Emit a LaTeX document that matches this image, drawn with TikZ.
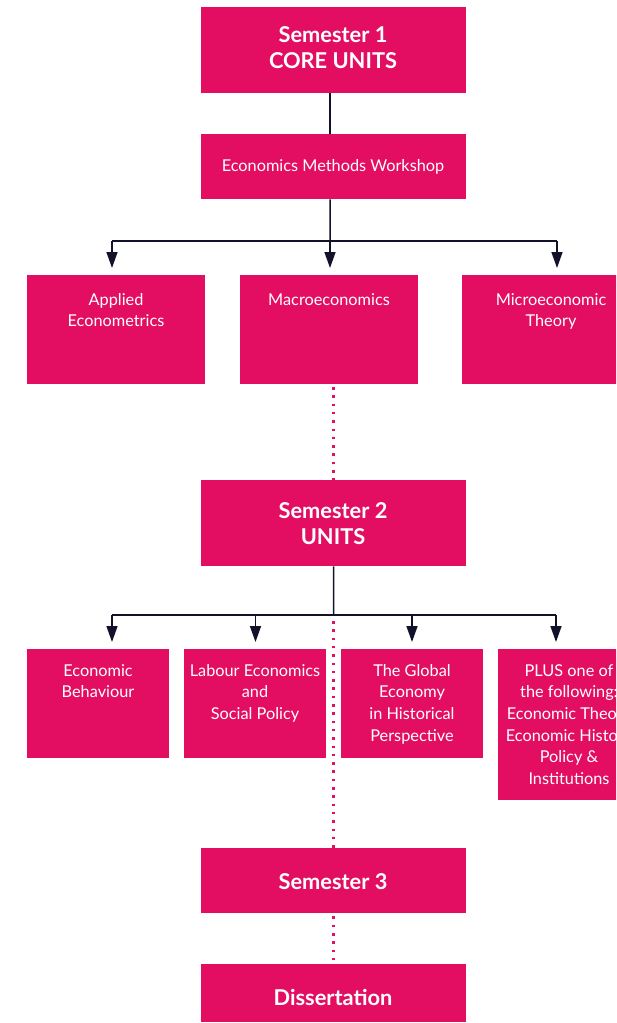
\documentclass[tikz,border=0pt]{standalone}
\usepackage{fontspec}
\setmainfont{Lato}
\usetikzlibrary{arrows.meta}
\definecolor{mag}{HTML}{E30E62}
\definecolor{navy}{HTML}{12122A}
\begin{document}
\begin{tikzpicture}[x=1pt,y=-1pt,
  box/.style={fill=mag, draw=none, inner sep=0pt, anchor=north west},
  head/.style={text=white, font=\bfseries\fontsize{21.8}{26}\selectfont, align=center, inner sep=0pt},
  lbl/.style={text=white, font=\fontsize{16.3}{21.7}\selectfont, align=center, inner sep=0pt, anchor=north},
  conn/.style={draw=navy, line width=1.5pt},
  arr/.style={conn, -{Triangle[width=11pt,length=16pt]}, shorten >=7pt},
  dots/.style={draw=mag, line width=2.5pt, dash pattern=on 2.5pt off 5.8pt}
]
\useasboundingbox (0,0) rectangle (616,1023);
\clip (0,0) rectangle (616,1023);

% boxes
\node[box, minimum width=265pt, minimum height=86pt] (s1) at (201,7) {};
\node[box, minimum width=265pt, minimum height=65pt] (emw) at (201,134) {};
\node[box, minimum width=178pt, minimum height=109pt] (ae) at (27,275) {};
\node[box, minimum width=178pt, minimum height=109pt] (macro) at (240,275) {};
\node[box, minimum width=178pt, minimum height=109pt] (micro) at (462,275) {};
\node[box, minimum width=265pt, minimum height=86pt] (s2) at (201,480) {};
\node[box, minimum width=142pt, minimum height=109pt] (eb) at (27,649) {};
\node[box, minimum width=142pt, minimum height=109pt] (lab) at (184,649) {};
\node[box, minimum width=142pt, minimum height=109pt] (glob) at (341,649) {};
\node[box, minimum width=142pt, minimum height=151pt] (plus) at (498,649) {};
\node[box, minimum width=265pt, minimum height=65pt] (s3) at (201,848) {};
\node[box, minimum width=265pt, minimum height=58pt] (diss) at (201,964) {};

% texts
\node[head] (s1t) at (333,48) {Semester 1\\CORE UNITS};
\node[lbl, anchor=center] (emwt) at (333,167) {Economics Methods Workshop};
\node[lbl] (aet) at (116,293) {Applied\\Econometrics};
\node[lbl] (macrot) at (329,293) {Macroeconomics};
\node[lbl] (microt) at (551,293) {Microeconomic\\Theory};
\node[head] (s2t) at (333,523.5) {Semester 2\\UNITS};
\node[lbl] (ebt) at (98,664) {Economic\\Behaviour};
\node[lbl] (labt) at (255,664) {Labour Economics\\and\\Social Policy};
\node[lbl] (globt) at (412,664) {The Global\\Economy\\in Historical\\Perspective};
\node[lbl] (plust) at (569,664) {PLUS one of\\the following:\\Economic Theory\\Economic History\\Policy \&\\Institutions};
\node[head] (s3t) at (333,881.5) {Semester 3};
\node[head] (disst) at (333,997.5) {Dissertation};

% connectors, semester 1
\coordinate (j1) at (330,241);
\coordinate (j1l) at (112,241);
\coordinate (j1r) at (557,241);
\draw[conn] ([xshift=-3.5pt]s1.south) -- ([xshift=-3.5pt]emw.north);
\draw[conn] ([xshift=-3.5pt]emw.south) -- (j1);
\draw[conn] (j1l) -- (j1r);
\draw[arr] (j1l) -- (j1l |- ae.north);
\draw[arr] (j1) -- (j1 |- macro.north);
\draw[arr] (j1r) -- (j1r |- micro.north);

% connectors, semester 2
\coordinate (j2) at (333.5,615);
\coordinate (j2l) at (112,615);
\coordinate (j2b) at (255.5,615);
\coordinate (j2c) at (412,615);
\coordinate (j2r) at (556,615);
\coordinate (d1) at (333.5,387);
\coordinate (d2) at (333.5,621);
\draw[conn] (s2.south) -- (j2);
\draw[conn] (j2l) -- (j2r);
\draw[arr] (j2l) -- (j2l |- eb.north);
\draw[arr] (j2b) -- (j2b |- lab.north);
\draw[arr] (j2c) -- (j2c |- glob.north);
\draw[arr] (j2r) -- (j2r |- plus.north);

% dotted links
\draw[dots] (d1) -- (d1 |- s2.north);
\draw[dots] (d2) -- (d2 |- s3.north);
\draw[dots] ([yshift=-3pt]s3.south) -- (s3.south |- diss.north);
\end{tikzpicture}
\end{document}
